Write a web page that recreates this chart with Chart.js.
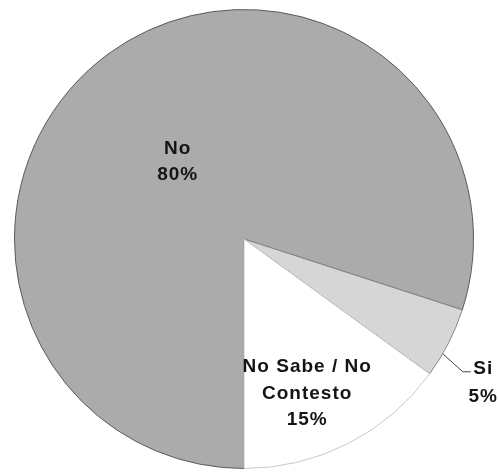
<!DOCTYPE html>
<html>
<head>
<meta charset="utf-8">
<script src="https://cdn.jsdelivr.net/npm/chart.js@4"></script>
<style>
  html, body { margin: 0; padding: 0; background: #ffffff; }
  #wrap { width: 498px; height: 473px; }
</style>
</head>
<body>
<div id="wrap"><canvas id="c" width="498" height="473"></canvas></div>
<script>
const categories = ["No", "Si", "No Sabe / No Contesto"];
const labelLines = [["No", "80%"], ["Si", "5%"], ["No Sabe / No", "Contesto", "15%"]];
const values = [80, 5, 15];
const sliceColors = ["#ababab", "#d6d6d6", "#ffffff"];

// label placement relative to each slice (angle offset in degrees, radius fraction)
const labelPlacement = [
  { dAngle: -4.3, frac: 0.45, lineH: 26.5, leader: false },
  { dAngle: 3.7, frac: 1.21, lineH: 28, leader: true },
  { dAngle: 4.7, frac: 0.72, lineH: 26.5, leader: false }
];

const labelPlugin = {
  id: 'sliceLabels',
  afterDatasetsDraw(chart) {
    const ctx = chart.ctx;
    const meta = chart.getDatasetMeta(0);
    ctx.save();
    ctx.font = 'bold 19px "Liberation Sans", Arial, sans-serif';
    if ('letterSpacing' in ctx) ctx.letterSpacing = '1px';
    ctx.fillStyle = '#141414';
    ctx.textAlign = 'center';
    ctx.textBaseline = 'alphabetic';
    meta.data.forEach((arc, i) => {
      const p = labelPlacement[i];
      const mid = (arc.startAngle + arc.endAngle) / 2 + p.dAngle * Math.PI / 180;
      const r = arc.outerRadius;
      const ax = arc.x + Math.cos(mid) * r * p.frac;
      const ay = arc.y + Math.sin(mid) * r * p.frac;
      const lines = labelLines[i];
      const n = lines.length;
      lines.forEach((t, k) => {
        const by = ay + (k - (n - 1) / 2) * p.lineH + 7;
        ctx.fillText(t, ax + 0.5, by);
      });
      if (p.leader) {
        const m0 = (arc.startAngle + arc.endAngle) / 2 + 3 * Math.PI / 180;
        const sx = arc.x + Math.cos(m0) * r;
        const sy = arc.y + Math.sin(m0) * r;
        ctx.beginPath();
        ctx.strokeStyle = '#444';
        ctx.lineWidth = 1;
        ctx.moveTo(sx, sy);
        ctx.lineTo(ax - 20, ay - 9);
        ctx.lineTo(ax - 12, ay - 9);
        ctx.stroke();
      }
    });
    ctx.restore();
  }
};

new Chart(document.getElementById('c'), {
  type: 'pie',
  data: {
    labels: categories,
    datasets: [{
      data: values,
      backgroundColor: sliceColors,
      borderColor: ['#5a5a5a', '#8a8a8a', '#c8c8c8'],
      borderWidth: 1
    }]
  },
  options: {
    responsive: false,
    animation: false,
    rotation: 180,
    layout: { padding: { top: 9, bottom: 4, left: 14, right: 24 } },
    plugins: {
      legend: { display: false },
      tooltip: { enabled: false },
      title: { display: false }
    }
  },
  plugins: [labelPlugin]
});
</script>
</body>
</html>
